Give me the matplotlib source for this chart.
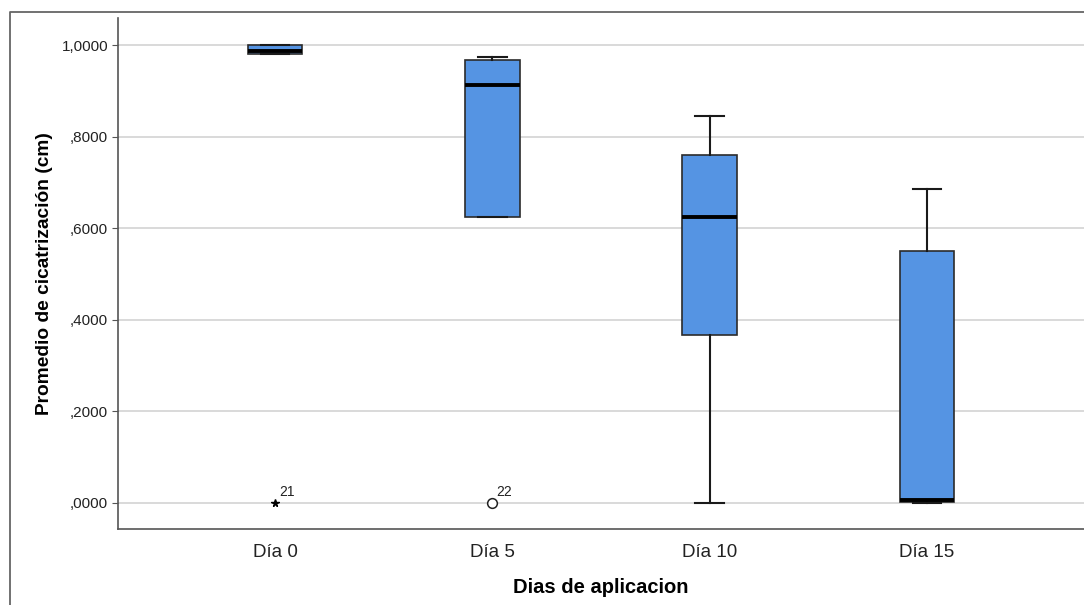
import matplotlib
matplotlib.use("Agg")
import matplotlib.pyplot as plt
from matplotlib.lines import Line2D

plt.rcParams['font.family'] = ['Liberation Sans', 'DejaVu Sans']

categories = ["Día 0", "Día 5", "Día 10", "Día 15"]
whislo = [0.980, 0.624, 0.000, 0.000]
q1 = [0.980, 0.624, 0.367, 0.002]
med = [0.986, 0.913, 0.624, 0.007]
q3 = [1.000, 0.967, 0.760, 0.550]
whishi = [1.000, 0.974, 0.845, 0.686]
outlier_vals = [0.0, 0.0]
outlier_pos = [0, 1]
outlier_ids = ["21", "22"]
outlier_markers = ["*", "o"]
yticks = [0.0, 0.2, 0.4, 0.6, 0.8, 1.0]
ytick_labels = [",0000", ",2000", ",4000", ",6000", ",8000", "1,0000"]

W, H = 1084, 605
fig = plt.figure(figsize=(W / 100, H / 100), dpi=100)
ax = fig.add_axes([118 / W, 1 - 529 / H, 1 - 118 / W, (529 - 18) / H])

stats = []
for i in range(len(categories)):
    stats.append(dict(med=med[i], q1=q1[i], q3=q3[i], whislo=whislo[i],
                      whishi=whishi[i], fliers=[], label=categories[i]))

ax.bxp(stats, positions=range(len(categories)), widths=0.25, patch_artist=True,
       showfliers=False,
       boxprops=dict(facecolor="#5594E3", edgecolor="#2b2b2b", linewidth=1.2),
       medianprops=dict(color="black", linewidth=2.8),
       whiskerprops=dict(color="#1a1a1a", linewidth=1.5),
       capprops=dict(color="#1a1a1a", linewidth=1.5),
       capwidths=0.13, zorder=3)

for p, v, lab, m in zip(outlier_pos, outlier_vals, outlier_ids, outlier_markers):
    if m == "*":
        ax.plot(p, v, marker="*", color="black", markersize=5.5, zorder=4, linestyle="none")
    else:
        ax.plot(p, v, marker="o", markerfacecolor="white", markeredgecolor="#222222",
                markersize=7, markeredgewidth=1.1, zorder=4, linestyle="none")
    ax.annotate(lab, (p, v), xytext=(3, 5), textcoords="offset points",
                fontsize=10, color="#222222", zorder=5)

ax.set_xlim(-0.724, 3.724)
ax.set_ylim(-0.057, 1.059)
ax.set_yticks(yticks)
ax.set_yticklabels(ytick_labels)
ax.set_xticks(range(len(categories)))
ax.set_xticklabels(categories)
ax.tick_params(axis="x", length=0, labelsize=13.5, pad=11, colors="#222222")
ax.tick_params(axis="y", length=4, width=0.8, color="#555555", labelsize=11, pad=3,
               colors="#222222")
ax.yaxis.grid(True, color="#d3d3d3", linewidth=1.2, zorder=0)
ax.set_axisbelow(True)
for s in ["top", "right"]:
    ax.spines[s].set_visible(False)
for s in ["left", "bottom"]:
    ax.spines[s].set_color("#555555")
    ax.spines[s].set_linewidth(1.2)

ax.set_ylabel("Promedio de cicatrización (cm)", fontsize=13.8, fontweight="bold", labelpad=6)
ax.set_xlabel("Dias de aplicacion", fontsize=14.5, fontweight="bold", labelpad=12)

# outer frame
frame = Line2D([10 / W, 10 / W, 1.0], [0.0, 1 - 12 / H, 1 - 12 / H],
               transform=fig.transFigure, color="#666666", linewidth=1.3)
fig.add_artist(frame)

fig.savefig("out.png", dpi=100)
